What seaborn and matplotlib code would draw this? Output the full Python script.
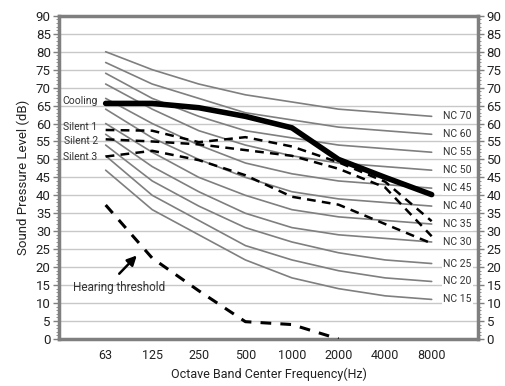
import numpy as np
import pandas as pd
import matplotlib
matplotlib.use("Agg")
import matplotlib.pyplot as plt
import seaborn as sns

# ---- data ----
freqs = ["63", "125", "250", "500", "1000", "2000", "4000", "8000"]
nc_labels = ["NC 70", "NC 60", "NC 55", "NC 50", "NC 45", "NC 40",
             "NC 35", "NC 30", "NC 25", "NC 20", "NC 15"]
nc70 = [80, 75, 71, 68, 66, 64, 63, 62]
nc60 = [77, 71, 67, 63, 61, 59, 58, 57]
nc55 = [74, 67, 62, 58, 56, 54, 53, 52]
nc50 = [71, 64, 58, 54, 51, 49, 48, 47]
nc45 = [67, 60, 54, 49, 46, 44, 43, 42]
nc40 = [64, 56, 50, 45, 41, 39, 38, 37]
nc35 = [60, 52, 45, 40, 36, 34, 33, 32]
nc30 = [57, 48, 41, 35, 31, 29, 28, 27]
nc25 = [54, 44, 37, 31, 27, 24, 22, 21]
nc20 = [51, 40, 33, 26, 22, 19, 17, 16]
nc15 = [47, 36, 29, 22, 17, 14, 12, 11]
nc_curves = [nc70, nc60, nc55, nc50, nc45, nc40, nc35, nc30, nc25, nc20, nc15]

cooling = [65.6, 65.6, 64.4, 62.0, 58.8, 50.0, 45.0, 40.2]
silent1 = [58.2, 58.0, 54.8, 56.2, 53.6, 49.2, 43.8, 32.8]
silent2 = [55.6, 55.0, 54.2, 52.6, 51.0, 47.4, 42.2, 28.6]
silent3 = [50.8, 52.4, 49.8, 45.6, 39.6, 37.4, 32.0, 26.6]
hearing = [37.3, 22.5, 13.4, 4.8, 4.0, 0.0]

series_labels = ["Cooling", "Silent 1", "Silent 2", "Silent 3"]
yticks = list(range(0, 95, 5))

# ---- figure ----
sns.set_theme(style="white")
plt.rcParams['font.family'] = ['Liberation Sans Narrow', 'Roboto', 'DejaVu Sans']

fig = plt.figure(figsize=(5.05, 3.86), dpi=100)
ax = fig.add_axes([0.117, 0.122, 0.830, 0.837])

x = np.arange(len(freqs))
grey = '#7f7f7f'

for vals in nc_curves:
    sns.lineplot(x=x, y=vals, ax=ax, color=grey, lw=1.2, zorder=3)

sns.lineplot(x=x, y=cooling, ax=ax, color='black', lw=4, zorder=5)
for vals in [silent1, silent2, silent3]:
    sns.lineplot(x=x, y=vals, ax=ax, color='black', lw=1.8, zorder=4,
                 linestyle=(0, (3.5, 2.5)))
sns.lineplot(x=x[:len(hearing)], y=hearing, ax=ax, color='black', lw=2.2,
             zorder=4, linestyle=(0, (3.5, 3)))

# labels at right of NC curves
for lab, vals in zip(nc_labels, nc_curves):
    ax.text(7.25, vals[-1], lab, fontsize=7.5, va='center', ha='left',
            color='#333333', zorder=6,
            bbox=dict(facecolor='white', edgecolor='none', pad=1.2))

# labels at left of equipment curves
for lab, vals, dy in zip(series_labels, [cooling, silent1, silent2, silent3],
                         [0.6, 0.8, -0.4, 0.0]):
    ax.text(-0.17, vals[0] + dy, lab, fontsize=7.5, va='center', ha='right',
            color='#333333', zorder=6)

ax.annotate("", xy=(0.71, 23.8), xytext=(0.25, 17.6),
            arrowprops=dict(arrowstyle='-|>', color='black', lw=1.8,
                            mutation_scale=14), zorder=6)
ax.text(0.28, 14.2, "Hearing threshold", fontsize=8.5, ha='center',
        va='center', color='#333333', zorder=6)

ax.set_xlim(-1, 8)
ax.set_ylim(0, 90)
ax.set_xticks(x)
ax.set_xticklabels(freqs)
ax.set_yticks(yticks)
ax.set_yticks(np.arange(0, 91, 1), minor=True)
ax.yaxis.grid(True, color='#c8c8c8', lw=1, zorder=1)
ax.set_axisbelow(True)

ax.tick_params(axis='x', which='major', direction='in', length=3, width=1,
               color=grey, labelsize=9, pad=7, labelcolor='#222222')
ax.tick_params(axis='y', which='major', direction='out', length=4, width=1,
               color=grey, labelsize=9.5, pad=2, left=True, right=True,
               labelleft=True, labelright=True, labelcolor='#222222')
ax.tick_params(axis='y', which='minor', direction='out', length=2, width=0.6,
               color=grey, left=True, right=True)

for s in ax.spines.values():
    s.set_color(grey)
    s.set_linewidth(2.5)
    s.set_visible(True)

ax.set_xlabel("Octave Band Center Frequency(Hz)", fontsize=9, color='#222222',
              labelpad=4)
ax.set_ylabel("Sound Pressure Level (dB)", fontsize=9.5, color='#222222',
              labelpad=4)

fig.savefig("out.png", dpi=100)
